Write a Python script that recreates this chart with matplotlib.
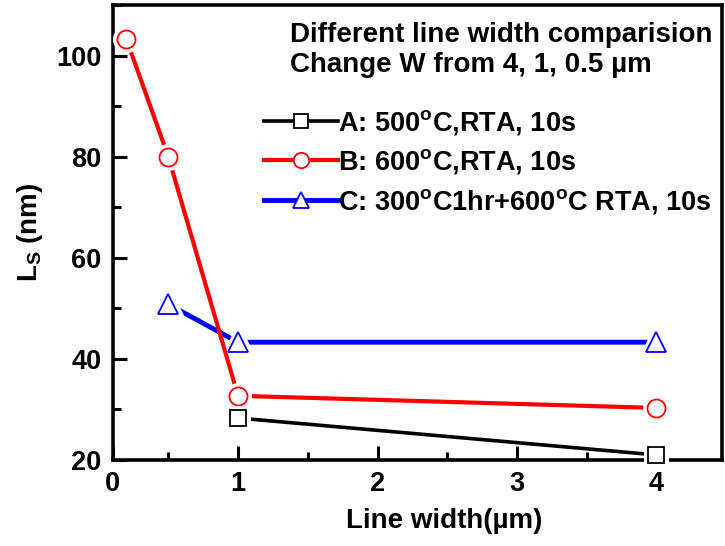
import matplotlib
matplotlib.use("Agg")
import matplotlib.pyplot as plt
from matplotlib.lines import Line2D
from matplotlib.ticker import MultipleLocator

plt.rcParams['font.family'] = ['Liberation Sans', 'DejaVu Sans']
plt.rcParams['font.weight'] = 'bold'
plt.rcParams['mathtext.default'] = 'regular'

# line width (um) and L_s (nm)
width_a = [1, 4]
ls_a = [28.3, 21.0]
width_b = [0.2, 0.5, 1, 4]
ls_b = [103.2, 80.0, 32.7, 30.3]
width_c = [0.5, 1, 4]
ls_c = [50.8, 43.3, 43.3]

labels = ['A: 500$^{o}$C,RTA, 10s',
          'B: 600$^{o}$C,RTA, 10s',
          'C: 300$^{o}$C1hr+600$^{o}$C RTA, 10s']

fig = plt.figure(figsize=(7.25, 5.46), dpi=100)
ax = fig.add_axes([112.5 / 725, 86 / 546, 609.5 / 725, 455 / 546])

series = [
    (width_c, ls_c, 'blue', 3.5, '^', 14, 2),
    (width_b, ls_b, 'red', 3.0, 'o', 13, 3),
    (width_a, ls_a, 'black', 2.6, 's', 11.5, 4),
]
handles = {}
for x, y, col, lw, mk, ms, z in series:
    ax.plot(x, y, color=col, lw=lw, zorder=z, solid_capstyle='butt')
    # white halo so the lines stop short of the markers
    ax.plot(x, y, ls='none', marker=mk, ms=ms, mfc='white', mec='white',
            mew=6.5, zorder=z + 0.1, clip_on=False)
    ax.plot(x, y, ls='none', marker=mk, ms=ms, mfc='white', mec=col,
            mew=1.3, zorder=z + 0.2, clip_on=False)
    handles[col] = Line2D([], [], color=col, lw=lw, marker=mk, ms=ms * 0.85,
                          mfc='white', mec=col, mew=1.3)

ax.legend([handles['black'], handles['red'], handles['blue']], labels,
          loc='upper left', bbox_to_anchor=(264 / 725, 1 - 108 / 546),
          bbox_transform=fig.transFigure, frameon=False, fontsize=19.5,
          handlelength=2.75, handletextpad=0.0, labelspacing=0.38,
          borderpad=0, borderaxespad=0)

fig.text(290 / 725, 1 - 41.7 / 546, 'Different line width comparision',
         fontsize=20, fontweight='bold', va='baseline')
fig.text(290 / 725, 1 - 72 / 546, 'Change W from 4, 1, 0.5 µm',
         fontsize=20, fontweight='bold', va='baseline')

ax.set_xlim(0.1, 4.47)
ax.set_ylim(20, 110)
ax.set_xticks([0.1, 1, 2, 3, 4])
ax.set_xticklabels(['0', '1', '2', '3', '4'])
ax.xaxis.set_minor_locator(MultipleLocator(0.5))
ax.set_yticks([20, 40, 60, 80, 100])
ax.yaxis.set_minor_locator(MultipleLocator(10))

ax.tick_params(which='both', direction='in', width=2.2, labelsize=19.5,
               top=False, right=False)
ax.tick_params(which='major', length=10, pad=8)
ax.tick_params(which='minor', length=6)
for s in ax.spines.values():
    s.set_linewidth(2.6)

ax.set_xlabel('Line width(µm)', fontsize=20, fontweight='bold', labelpad=4)
ax.xaxis.set_label_coords(0.545, -0.105)
ax.set_ylabel('L$_{S}$ (nm)', fontsize=20, fontweight='bold', labelpad=8)

fig.savefig('out.png', dpi=100)
